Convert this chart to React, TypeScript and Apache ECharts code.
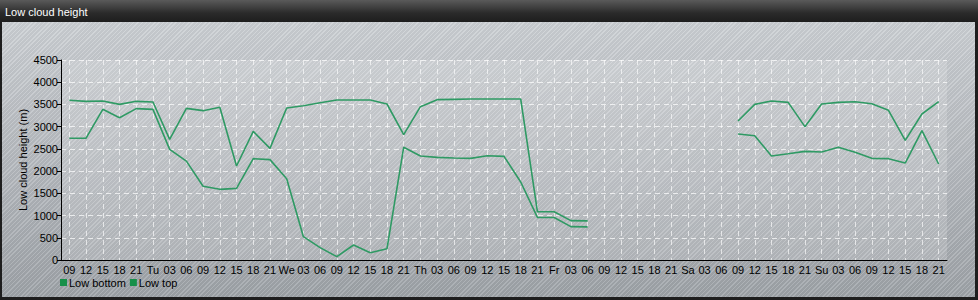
import React, { useEffect, useRef } from "react";
import * as echarts from "echarts";

const TICK_LABELS: string[] = [
  "09", "12", "15", "18", "21",
  "Tu", "03", "06", "09", "12", "15", "18", "21",
  "We", "03", "06", "09", "12", "15", "18", "21",
  "Th", "03", "06", "09", "12", "15", "18", "21",
  "Fr", "03", "06", "09", "12", "15", "18", "21",
  "Sa", "03", "06", "09", "12", "15", "18", "21",
  "Su", "03", "06", "09", "12", "15", "18", "21",
];

const LOW_BOTTOM: (number | null)[] = [
  2740, 2740, 3390, 3200, 3405, 3390, 2490, 2225, 1660, 1590, 1612, 2280, 2258,
  1830, 525, 278, 75, 337, 165, 255, 2535, 2340, 2310, 2295, 2287, 2347, 2332,
  1755, 960, 957, 750, 745,
  null, null, null, null, null, null, null, null,
  2835, 2797, 2340, 2392, 2445, 2430, 2535, 2422, 2287, 2280, 2182, 2910, 2160,
];

const LOW_TOP: (number | null)[] = [
  3593, 3570, 3577, 3502, 3570, 3555, 2715, 3412, 3360, 3435, 2115, 2895, 2512,
  3420, 3472, 3540, 3600, 3600, 3600, 3510, 2820, 3450, 3608, 3615, 3622, 3622,
  3622, 3622, 1087, 1087, 885, 880,
  null, null, null, null, null, null, null, null,
  3127, 3502, 3577, 3547, 3000, 3510, 3547, 3562, 3517, 3367, 2692, 3285, 3562,
];

const TITLE = "Low cloud height";
const Y_NAME = "Low cloud height (m)";
const SERIES_NAMES = ["Low bottom", "Low top"];

const FONT = "'Liberation Sans', Arial, sans-serif";

export default function App() {
  const ref = useRef<HTMLDivElement>(null);

  useEffect(() => {
    if (!ref.current) return;
    const chart = echarts.init(ref.current, undefined, { renderer: "svg" });
    const lineColor = "#2f9a64";
    const iconColor = "#17904a";
    chart.setOption({
      animation: false,
      backgroundColor: "transparent",
      textStyle: { fontFamily: FONT },
      title: {
        text: TITLE,
        left: 0,
        top: 1,
        textStyle: { color: "#ffffff", fontSize: 11, fontWeight: "normal", fontFamily: FONT },
      },
      legend: {
        left: 55,
        top: 272,
        itemWidth: 7,
        itemHeight: 7,
        itemGap: 4,
        icon: "rect",
        textStyle: { color: "#000", fontSize: 11, fontFamily: FONT, padding: [0, 0, 0, -3] },
        data: SERIES_NAMES,
      },
      grid: {
        left: 61,
        right: 31,
        top: 60,
        bottom: 40,
        show: true,
        backgroundColor: "rgba(255,255,255,0.16)",
        borderWidth: 0,
      },
      xAxis: {
        type: "category",
        data: TICK_LABELS,
        boundaryGap: true,
        axisLine: { lineStyle: { color: "#000", width: 1 } },
        axisTick: { alignWithLabel: true, length: 4, interval: 0, lineStyle: { color: "#000" } },
        axisLabel: { interval: 0, color: "#000", fontSize: 11, margin: 4, fontFamily: FONT },
        splitLine: {
          show: true,
          alignWithLabel: true,
          interval: 0,
          lineStyle: { color: "rgba(255,255,255,0.65)", type: [5, 4], width: 1 },
        },
      },
      yAxis: {
        type: "value",
        min: 0,
        max: 4500,
        interval: 500,
        name: Y_NAME,
        nameLocation: "middle",
        nameGap: 33,
        nameMoveOverlap: false,
        nameTextStyle: { color: "#000", fontSize: 11, fontFamily: FONT },
        axisLine: { show: true, lineStyle: { color: "#000", width: 1 } },
        axisTick: { show: true, length: 4, lineStyle: { color: "#000" } },
        axisLabel: {
          color: "#000",
          fontSize: 11,
          margin: 3,
          fontFamily: FONT,
          formatter: (v: number) => String(v),
        },
        splitLine: {
          show: true,
          lineStyle: { color: "rgba(255,255,255,0.7)", type: [5, 4], width: 1 },
        },
      },
      series: [
        {
          name: SERIES_NAMES[0],
          type: "line",
          data: LOW_BOTTOM,
          symbol: "none",
          connectNulls: false,
          itemStyle: { color: iconColor },
          lineStyle: { color: lineColor, width: 1.6 },
        },
        {
          name: SERIES_NAMES[1],
          type: "line",
          data: LOW_TOP,
          symbol: "none",
          connectNulls: false,
          itemStyle: { color: iconColor },
          lineStyle: { color: lineColor, width: 1.6 },
        },
      ],
    });
    return () => chart.dispose();
  }, []);

  return (
    <div
      style={{
        position: "fixed",
        left: 0,
        top: 0,
        width: 978,
        height: 300,
        background: "#1e1e1e",
        overflow: "hidden",
      }}
    >
      <div
        style={{
          position: "absolute",
          left: 0,
          top: 0,
          width: 978,
          height: 22,
          background: "linear-gradient(#5a5a5a, #2a2a2a 60%, #1e1e1e)",
        }}
      />
      <div
        style={{
          position: "absolute",
          left: 2,
          top: 22,
          width: 973,
          height: 275,
          background:
            "repeating-linear-gradient(135deg, rgba(255,255,255,0.14) 0px, rgba(255,255,255,0.14) 1px, rgba(0,0,0,0.04) 1px, rgba(0,0,0,0.04) 3px), linear-gradient(#ccd0d4, #b4b8bd 55%, #9ea3a8)",
        }}
      />
      <div
        ref={ref}
        style={{ position: "absolute", left: 0, top: 0, width: 978, height: 300 }}
      />
    </div>
  );
}
